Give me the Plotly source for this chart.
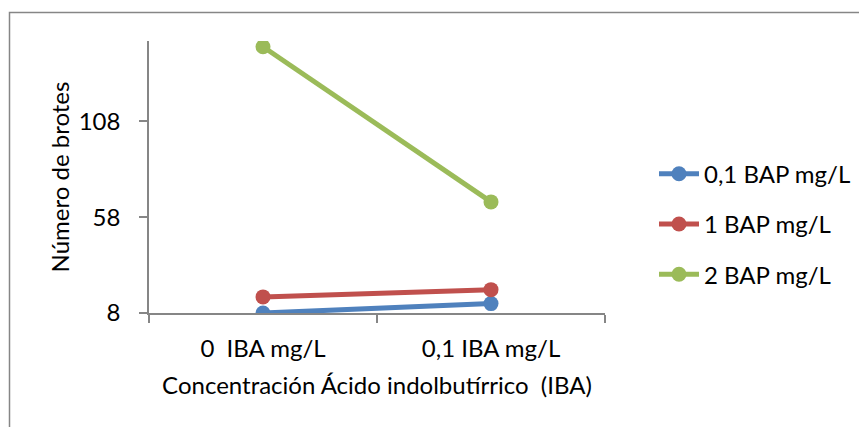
import plotly.graph_objects as go

categories = ["0  IBA mg/L", "0,1 IBA mg/L"]
series_names = ["0,1 BAP mg/L", "1 BAP mg/L", "2 BAP mg/L"]
bap_01 = [8, 12.9]
bap_1 = [16.4, 20.2]
bap_2 = [147, 66]
y_ticks = [8, 58, 108]
colors = ["#4F81BD", "#C0504D", "#9BBB59"]

FONT = "Lato"
FS = 24
fig = go.Figure()
for i, (name, vals) in enumerate(zip(series_names, [bap_01, bap_1, bap_2])):
    fig.add_trace(go.Scatter(
        x=categories, y=vals, name=name, mode="lines+markers",
        line=dict(color=colors[i], width=5),
        marker=dict(color=colors[i], size=15),
        legendgroup=f"g{i}",
    ))

L, R, T = 149, 605, 41
B = 312.7
W = 859
H = 427
pw = R - L
ph = B - T

def px(x):
    return (x - L) / pw

def py(y):
    return (B - y) / ph

fig.update_layout(
    width=W, height=H,
    margin=dict(l=L, r=W - R, t=T, b=H - B, pad=0, autoexpand=False),
    paper_bgcolor="white", plot_bgcolor="white",
    font=dict(family=FONT, size=FS, color="#000000"),
    showlegend=True,
    legend=dict(
        x=px(654), y=py(224), xanchor="left", yanchor="middle",
        font=dict(family=FONT, size=FS, color="#000000"),
        tracegroupgap=16, itemwidth=40, bgcolor="rgba(0,0,0,0)",
    ),
    xaxis=dict(
        type="category", range=[-0.5, 1.5],
        showline=True, linecolor="#868686", linewidth=1.5,
        ticks="outside", ticklen=8, tickcolor="#868686", tickwidth=1.5,
        tickson="boundaries", showgrid=False, zeroline=False,
        tickfont=dict(family=FONT, size=FS),
        ticklabelstandoff=13,
        title=dict(text="Concentración Ácido indolbutírrico  (IBA)",
                   font=dict(family=FONT, size=FS), standoff=17),
    ),
    yaxis=dict(
        range=[8, 150], tickvals=y_ticks, ticktext=[str(v) for v in y_ticks],
        showline=True, linecolor="#868686", linewidth=1.5,
        ticks="outside", ticklen=8, tickcolor="#868686", tickwidth=1.5,
        showgrid=False, zeroline=False,
        tickfont=dict(family=FONT, size=FS),
        ticklabelstandoff=14,
        title=dict(text="Número de brotes", font=dict(family=FONT, size=FS), standoff=2),
    ),
    shapes=[dict(
        type="rect", xref="paper", yref="paper",
        x0=px(9.5), x1=px(900), y0=py(470), y1=py(12.5),
        line=dict(color="#868686", width=1.5), fillcolor="rgba(0,0,0,0)",
        layer="below",
    )],
)

fig.write_html("out.html")
